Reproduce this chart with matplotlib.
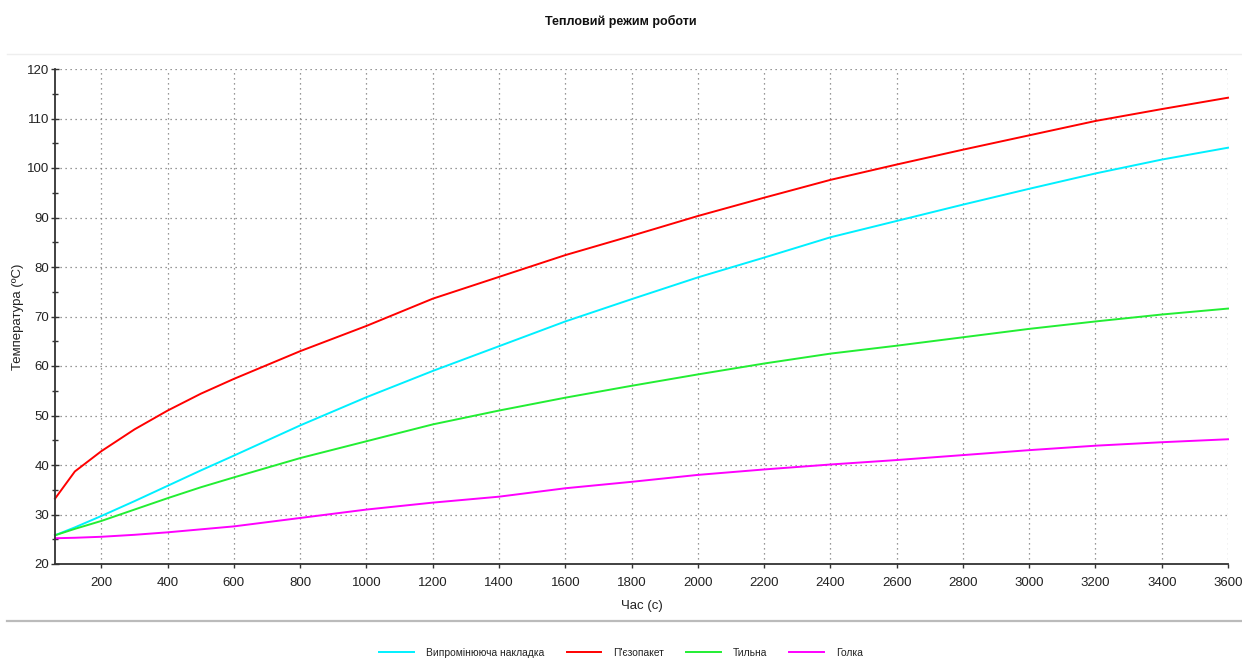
import matplotlib
matplotlib.use("Agg")
import matplotlib.pyplot as plt
from matplotlib.lines import Line2D
from matplotlib.ticker import MultipleLocator

plt.rcParams['font.family'] = ['Liberation Sans', 'DejaVu Sans']

time_s = [60, 120, 200, 300, 400, 500, 600, 800, 1000, 1200, 1400, 1600, 1800,
          2000, 2200, 2400, 2600, 2800, 3000, 3200, 3400, 3600]

nakladka = [25.8, 27.4, 29.7, 32.7, 35.8, 38.9, 41.9, 48.0, 53.7, 59.0, 64.0, 69.0,
            73.5, 77.9, 81.9, 86.0, 89.3, 92.6, 95.8, 98.9, 101.7, 104.1]
piezo = [33.2, 38.7, 42.8, 47.2, 51.0, 54.4, 57.4, 63.0, 68.1, 73.6, 78.0, 82.4,
         86.3, 90.3, 94.0, 97.6, 100.7, 103.7, 106.6, 109.5, 111.9, 114.2]
tylna = [25.8, 27.1, 28.7, 31.0, 33.3, 35.5, 37.5, 41.4, 44.8, 48.2, 51.0, 53.6,
         56.0, 58.3, 60.5, 62.5, 64.1, 65.8, 67.5, 69.0, 70.4, 71.6]
golka = [25.2, 25.3, 25.5, 25.9, 26.4, 27.0, 27.6, 29.3, 31.0, 32.4, 33.6, 35.3,
         36.6, 38.0, 39.1, 40.1, 41.0, 42.0, 43.0, 43.9, 44.6, 45.2]

series_names = ["Випромінююча накладка", "П'єзопакет", "Тильна", "Голка"]
series_colors = ["#00F0FF", "#FF0000", "#22EE33", "#FF00FF"]
series_values = [nakladka, piezo, tylna, golka]

W, H = 1242, 659
fig = plt.figure(figsize=(W / 100, H / 100), dpi=100)
ax = fig.add_axes([55 / W, 1 - 564 / H, (1228 - 55) / W, (564 - 69) / H])

for name, col, vals in zip(series_names, series_colors, series_values):
    ax.plot(time_s, vals, color=col, lw=1.4, label=name, clip_on=False)

ax.set_xlim(60, 3600)
ax.set_ylim(20, 120)
ax.xaxis.set_major_locator(MultipleLocator(200))
ax.yaxis.set_major_locator(MultipleLocator(10))
ax.yaxis.set_minor_locator(MultipleLocator(5))

ax.grid(True, which='major', color='#777777', linestyle=(0, (1, 3)), lw=0.9)
for s in ['top', 'right']:
    ax.spines[s].set_visible(False)
for s in ['left', 'bottom']:
    ax.spines[s].set_color('#333333')
    ax.spines[s].set_linewidth(1.3)

ax.tick_params(axis='y', which='major', direction='inout', length=6, width=1,
               colors='#333333', labelsize=9.5, labelcolor='#222222', pad=1)
ax.tick_params(axis='y', which='minor', direction='inout', length=4, width=1,
               colors='#333333')
ax.tick_params(axis='x', which='major', direction='out', length=3, width=1,
               colors='#333333', labelsize=9.5, labelcolor='#222222', pad=6)

ax.set_xlabel("Час (с)", fontsize=9.5, color='#222222', labelpad=8)
ax.set_ylabel("Температура (ºC)", fontsize=9.5, color='#222222', labelpad=2)

fig.text(0.5, 1 - 21 / H, "Тепловий режим роботи", ha='center', va='center',
         fontsize=9, fontweight='bold', color='#111111')

fig.add_artist(Line2D([7 / W, 1], [1 - 54 / H, 1 - 54 / H], color='#eeeeee', lw=1))
fig.add_artist(Line2D([7 / W, 1], [1 - 621 / H, 1 - 621 / H], color='#bbbbbb', lw=1.6))

handles, labels = ax.get_legend_handles_labels()
leg = fig.legend(handles, labels, loc='center', bbox_to_anchor=(0.5, 1 - 653 / H),
                 ncol=4, frameon=False, fontsize=7.4, handlelength=3.4,
                 handletextpad=1.1, columnspacing=2.2)
for t in leg.get_texts():
    t.set_color('#222222')

fig.savefig("out.png", dpi=100)
